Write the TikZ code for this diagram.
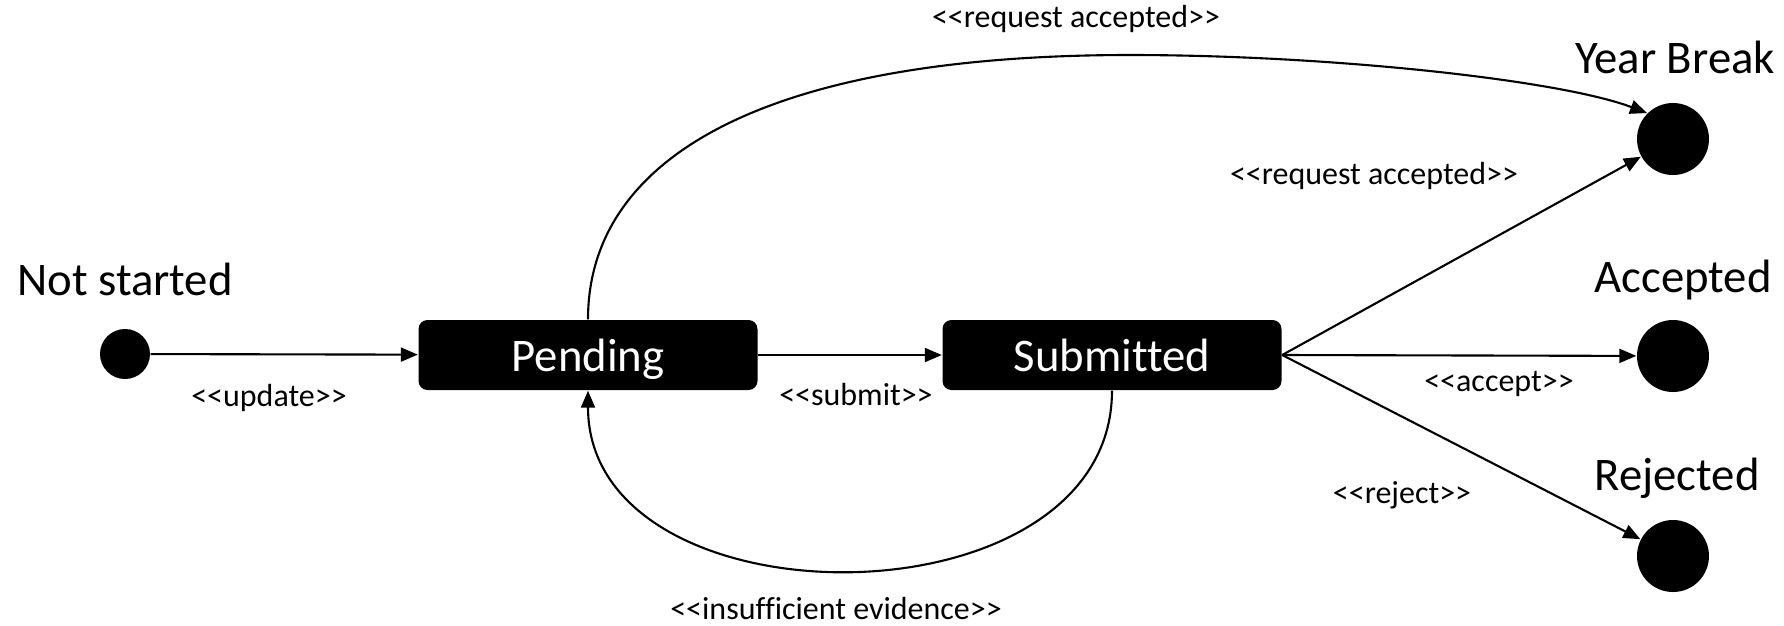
\documentclass[tikz,border=0pt]{standalone}
\usepackage{fontspec}
\setmainfont{Carlito}[Ligatures=CommonOff]
\usetikzlibrary{arrows.meta,positioning}

\newcommand{\trig}[1]{<{}<#1>{}>}

\begin{document}
\begin{tikzpicture}[x=0.1mm, y=-0.1mm]
    \tikzstyle{statebox} = [rectangle, fill=black, text=white, rounded corners=0.9mm, minimum width=33.9mm, minimum height=7mm, text depth=0pt, font=\fontsize{13.3}{16}\selectfont]
    \tikzstyle{startdot} = [circle, fill=black, minimum size=5mm, inner sep=0pt]
    \tikzstyle{enddot} = [circle, fill=black, minimum size=7.2mm, inner sep=0pt]
    \tikzstyle{statename} = [anchor=base, inner sep=0pt, font=\fontsize{13.3}{16}\selectfont]
    \tikzstyle{guard} = [anchor=base, inner sep=0pt, font=\fontsize{9.1}{11}\selectfont]
    \tikzstyle{arrow} = [line width=0.6pt, -{Triangle[length=1.7mm,width=1.4mm]}]

    \useasboundingbox (0,0) rectangle (1784,625);

    % States
    \node [startdot] (start) at (125,354) {};
    \node [statebox] (pending) at (588,355) {Pending};
    \node [statebox] (submitted) at (1112,355) {Submitted};
    \node [enddot] (yearbreak) at (1673,139) {};
    \node [enddot] (accepted) at (1673,356) {};
    \node [enddot] (rejected) at (1673,556) {};

    % State names
    \node [statename] (startname) at (125,295) {Not started};
    \node [statename] (yearbreakname) at (1675,73) {Year Break};
    \node [statename] (acceptedname) at (1683,292) {Accepted};
    \node [statename] (rejectedname) at (1677,490) {Rejected};

    % Transitions
    \draw [arrow] (start) -- (pending);
    \draw [arrow] (pending) -- (submitted);
    \draw [arrow] (submitted.east) -- (yearbreak);
    \draw [arrow] (submitted.east) -- (accepted);
    \draw [arrow] (submitted.east) -- (rejected);
    \draw [arrow] (pending.north) .. controls (588,160) and (760,55) .. (1130,55) .. controls (1330,55) and (1560,80) .. (yearbreak.135);
    \draw [arrow] (submitted.south) .. controls (1112,630) and (588,630) .. (pending.south);

    % Guards
    \node [guard] (update) at (269,406) {\trig{update}};
    \node [guard] (submit) at (856,405) {\trig{submit}};
    \node [guard] (evidence) at (836,619) {\trig{insufficient evidence}};
    \node [guard] (requesttop) at (1076,27) {\trig{request accepted}};
    \node [guard] (requestright) at (1374,184) {\trig{request accepted}};
    \node [guard] (accept) at (1499,391) {\trig{accept}};
    \node [guard] (reject) at (1402,503) {\trig{reject}};
\end{tikzpicture}
\end{document}
